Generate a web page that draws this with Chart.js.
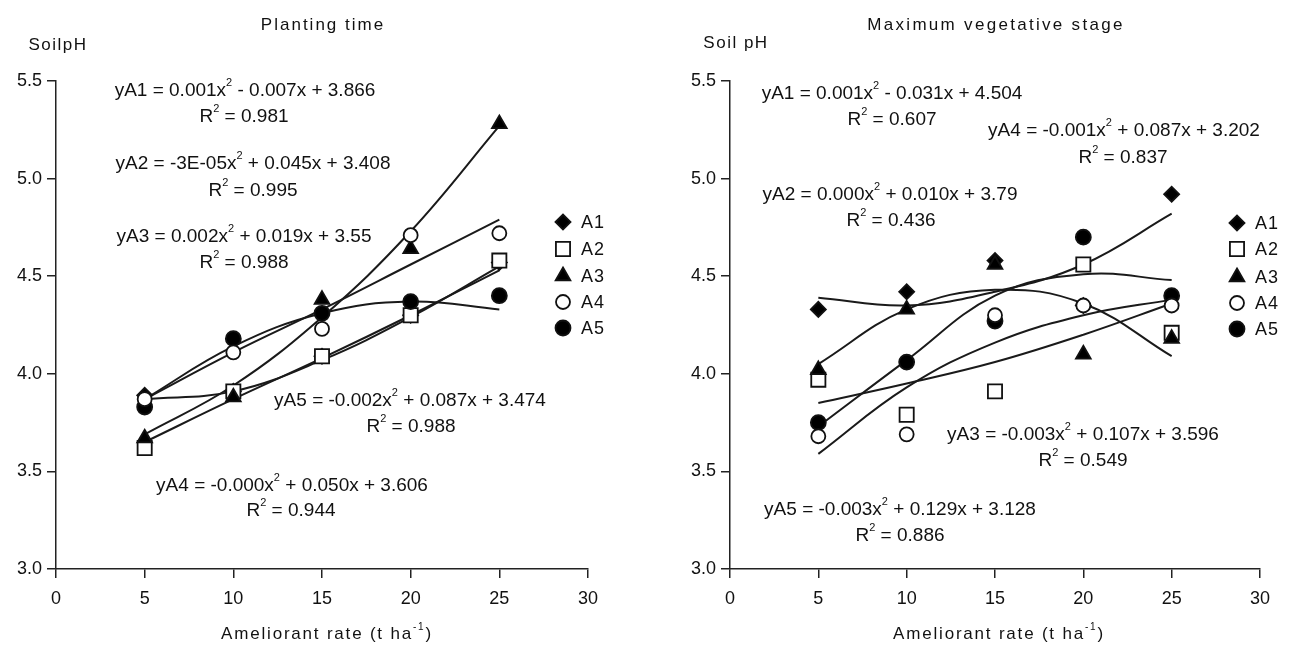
<!DOCTYPE html>
<html>
<head>
<meta charset="utf-8">
<script src="https://cdn.jsdelivr.net/npm/chart.js@4.4.0/dist/chart.umd.min.js"></script>
<style>
  html, body { margin: 0; padding: 0; background: #fff; }
  #wrap { position: relative; width: 1289px; height: 646px; }
  .panel { position: absolute; top: 0; height: 646px; }
</style>
</head>
<body>
<div id="wrap">
  <div class="panel" style="left:0;width:645px"><canvas id="planting" width="645" height="646"></canvas></div>
  <div class="panel" style="left:645px;width:644px"><canvas id="vegetative" width="644" height="646"></canvas></div>
</div>
<script>
// Shared axis values
const rates = [5, 10, 15, 20, 25];
const series = ['A1', 'A2', 'A3', 'A4', 'A5'];
const xTickValues = [0, 5, 10, 15, 20, 25, 30];
const yTickValues = [3.0, 3.5, 4.0, 4.5, 5.0, 5.5];

// Planting time - measured soil pH
const plantA1 = [3.89, 3.91, 4.09, 4.30, 4.57];
const plantA2 = [3.62, 3.91, 4.09, 4.30, 4.58];
const plantA3 = [3.67, 3.88, 4.38, 4.64, 5.28];
const plantA4 = [3.87, 4.11, 4.23, 4.71, 4.72];
const plantA5 = [3.83, 4.18, 4.31, 4.37, 4.40];

// Planting time - trend curves
const plantFitA1 = [3.87, 3.91, 4.07, 4.29, 4.55];
const plantFitA2 = [3.65, 3.87, 4.08, 4.30, 4.53];
const plantFitA3 = [3.69, 3.94, 4.29, 4.73, 5.27];
const plantFitA4 = [3.87, 4.11, 4.33, 4.56, 4.79];
const plantFitA5 = [3.87, 4.14, 4.31, 4.37, 4.33];

// Maximum vegetative stage - measured soil pH
const vegA1 = [4.33, 4.42, 4.58, 4.35, 4.92];
const vegA2 = [3.97, 3.79, 3.91, 4.56, 4.21];
const vegA3 = [4.02, 4.33, 4.56, 4.10, 4.18];
const vegA4 = [3.68, 3.69, 4.30, 4.35, 4.35];
const vegA5 = [3.75, 4.06, 4.27, 4.70, 4.40];

// Maximum vegetative stage - trend curves
const vegFitA1 = [4.39, 4.35, 4.42, 4.56, 4.82];
const vegFitA2 = [3.85, 3.95, 4.06, 4.20, 4.36];
const vegFitA3 = [4.05, 4.33, 4.43, 4.36, 4.09];
const vegFitA4 = [3.59, 3.93, 4.16, 4.30, 4.38];
const vegFitA5 = [3.73, 4.07, 4.40, 4.51, 4.48];

// equation labels (^{..} = superscript)
const plantEquations = [
  'yA1 = 0.001x^{2} - 0.007x + 3.866', 'R^{2} = 0.981',
  'yA2 = -3E-05x^{2} + 0.045x + 3.408', 'R^{2} = 0.995',
  'yA3 = 0.002x^{2} + 0.019x + 3.55', 'R^{2} = 0.988',
  'yA5 = -0.002x^{2} + 0.087x + 3.474', 'R^{2} = 0.988',
  'yA4 = -0.000x^{2} + 0.050x + 3.606', 'R^{2} = 0.944'
];
const vegEquations = [
  'yA1 = 0.001x^{2} - 0.031x + 4.504', 'R^{2} = 0.607',
  'yA4 = -0.001x^{2} + 0.087x + 3.202', 'R^{2} = 0.837',
  'yA2 = 0.000x^{2} + 0.010x + 3.79', 'R^{2} = 0.436',
  'yA3 = -0.003x^{2} + 0.107x + 3.596', 'R^{2} = 0.549',
  'yA5 = -0.003x^{2} + 0.129x + 3.128', 'R^{2} = 0.886'
];

// label placement (canvas pixels)
const plantEqPos = [[245, 91], [244, 117], [253, 164], [253, 191], [244, 237], [244, 263],
                    [410, 401], [411, 427], [292, 486], [291, 511]];
const vegEqPos = [[247, 94], [247, 120], [479, 131], [478, 158], [245, 195], [246, 221],
                  [438, 435], [438, 461], [255, 510], [255, 536]];

const FONT = '"Liberation Sans", Arial, sans-serif';
const INK = '#111';

const markerStyle = [
  { pointStyle: 'rectRot', radius: 7.5, fill: '#000', order: 5 },
  { pointStyle: 'rect', radius: 10, fill: '#fff', order: 4 },
  { pointStyle: 'triangle', radius: 8.5, fill: '#000', order: 3 },
  { pointStyle: 'circle', radius: 7, fill: '#fff', order: 1 },
  { pointStyle: 'circle', radius: 7.5, fill: '#000', order: 2 }
];

function drawRich(ctx, text, cx, cy, size, spacing) {
  const parts = [];
  const re = /\^\{([^}]*)\}/g;
  let last = 0, m;
  while ((m = re.exec(text)) !== null) {
    if (m.index > last) parts.push({ t: text.slice(last, m.index), sup: false });
    parts.push({ t: m[1], sup: true });
    last = re.lastIndex;
  }
  if (last < text.length) parts.push({ t: text.slice(last), sup: false });

  const supSize = Math.round(size * 0.6);
  ctx.letterSpacing = (spacing || 0) + 'px';
  let total = 0;
  parts.forEach(p => {
    ctx.font = (p.sup ? supSize : size) + 'px ' + FONT;
    p.w = ctx.measureText(p.t).width;
    total += p.w;
  });
  let x = cx - total / 2;
  ctx.textAlign = 'left';
  ctx.textBaseline = 'middle';
  parts.forEach(p => {
    ctx.font = (p.sup ? supSize : size) + 'px ' + FONT;
    ctx.fillText(p.t, x, p.sup ? cy - size * 0.4 : cy);
    x += p.w;
  });
  ctx.letterSpacing = '0px';
}

function makePanel(canvasId, opts) {
  const canvas = document.getElementById(canvasId);
  const W = canvas.width, H = canvas.height;
  const box = opts.box;

  const datasets = [];
  opts.fits.forEach((fit, i) => {
    datasets.push({
      type: 'line',
      label: series[i] + ' fit',
      data: rates.map((x, k) => ({ x: x, y: fit[k] })),
      borderColor: '#1a1a1a',
      borderWidth: 2,
      pointRadius: 0,
      tension: 0.4,
      fill: false,
      order: 10
    });
  });
  opts.observed.forEach((vals, i) => {
    const s = markerStyle[i];
    datasets.push({
      type: 'scatter',
      label: series[i],
      data: rates.map((x, k) => ({ x: x, y: vals[k] })),
      pointStyle: s.pointStyle,
      pointRadius: s.radius,
      pointBackgroundColor: s.fill,
      pointBorderColor: '#111',
      pointBorderWidth: 1.8,
      order: s.order
    });
  });

  const textPlugin = {
    id: 'texts',
    afterDraw(chart) {
      const ctx = chart.ctx;
      ctx.save();
      ctx.fillStyle = INK;
      drawRich(ctx, opts.title, opts.titlePos[0], opts.titlePos[1], 17, opts.titleSpacing);
      drawRich(ctx, opts.yLabel, opts.yLabelPos[0], opts.yLabelPos[1], 17, 1.5);
      drawRich(ctx, 'Ameliorant rate (t ha^{-1})', opts.xLabelPos[0], opts.xLabelPos[1], 17, 1.8);
      opts.equations.forEach((t, i) => {
        drawRich(ctx, t, opts.eqPos[i][0], opts.eqPos[i][1], 19, 0);
      });
      // legend
      series.forEach((name, i) => {
        const s = markerStyle[i];
        const y = box.legendY[i];
        ctx.fillStyle = s.fill;
        ctx.strokeStyle = '#111';
        ctx.lineWidth = 1.8;
        Chart.helpers.drawPoint(ctx, { pointStyle: s.pointStyle, radius: s.radius, borderWidth: 1.8, rotation: 0 },
          box.legendX, y);
        ctx.fillStyle = INK;
        ctx.font = '18px ' + FONT;
        ctx.textAlign = 'left';
        ctx.textBaseline = 'middle';
        ctx.letterSpacing = '1px';
        ctx.fillText(name, box.legendX + 18, y + 1);
        ctx.letterSpacing = '0px';
      });
      ctx.restore();
    }
  };

  const axisGrid = { drawOnChartArea: false, color: '#222', lineWidth: 1.5, tickLength: 9 };
  const axisBorder = { color: '#222', width: 1.5 };

  return new Chart(canvas.getContext('2d'), {
    type: 'scatter',
    data: { datasets: datasets },
    options: {
      responsive: false,
      animation: false,
      events: [],
      layout: { padding: { left: 0, right: W - box.right, top: box.top, bottom: 0 } },
      plugins: { legend: { display: false }, tooltip: { enabled: false }, title: { display: false } },
      scales: {
        x: {
          type: 'linear', min: 0, max: 30,
          afterBuildTicks: s => { s.ticks = xTickValues.map(v => ({ value: v })); },
          afterFit: s => { s.height = H - box.bottom; },
          grid: axisGrid,
          border: axisBorder,
          ticks: { color: INK, font: { family: FONT, size: 18 }, padding: 10, maxRotation: 0, autoSkip: false }
        },
        y: {
          type: 'linear', min: 3, max: 5.5,
          afterBuildTicks: s => { s.ticks = yTickValues.map(v => ({ value: v })); },
          afterFit: s => { s.width = box.left; },
          grid: axisGrid,
          border: axisBorder,
          ticks: { color: INK, font: { family: FONT, size: 18 }, padding: 5, callback: v => v.toFixed(1) }
        }
      }
    },
    plugins: [textPlugin]
  });
}

makePanel('planting', {
  title: 'Planting time', titlePos: [323, 25], titleSpacing: 2,
  yLabel: 'SoilpH', yLabelPos: [58, 45],
  xLabelPos: [327, 634],
  observed: [plantA1, plantA2, plantA3, plantA4, plantA5],
  fits: [plantFitA1, plantFitA2, plantFitA3, plantFitA4, plantFitA5],
  equations: plantEquations, eqPos: plantEqPos,
  box: { left: 56, right: 588, top: 81, bottom: 569, legendX: 563, legendY: [222, 249, 276, 302, 328] }
});

makePanel('vegetative', {
  title: 'Maximum vegetative stage', titlePos: [351, 25], titleSpacing: 2.3,
  yLabel: 'Soil pH', yLabelPos: [91, 43],
  xLabelPos: [354, 634],
  observed: [vegA1, vegA2, vegA3, vegA4, vegA5],
  fits: [vegFitA1, vegFitA2, vegFitA3, vegFitA4, vegFitA5],
  equations: vegEquations, eqPos: vegEqPos,
  box: { left: 85, right: 615, top: 81, bottom: 569, legendX: 592, legendY: [223, 249, 277, 303, 329] }
});
</script>
</body>
</html>
